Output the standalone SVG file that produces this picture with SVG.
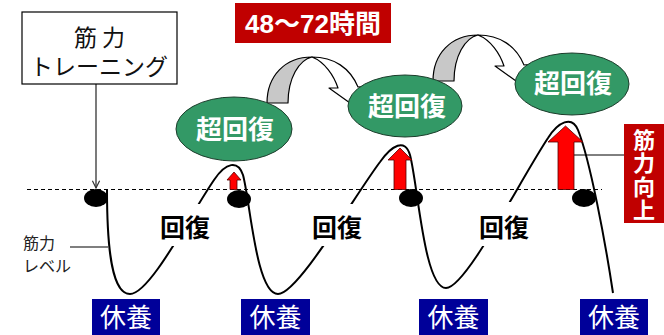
<svg xmlns="http://www.w3.org/2000/svg" width="664" height="335" viewBox="0 0 664 335">
<style>
text{font-family:"Liberation Sans","Noto Sans CJK JP",sans-serif}
.dot{fill:#000}
.sup{fill:#339966;stroke:#1d3d2c;stroke-width:1}
.supt{fill:#fff;font-size:26px;font-weight:bold;text-anchor:middle}
.rest{fill:#000099}
.restt{fill:#fff;font-size:26px;text-anchor:middle}
.rec{fill:#000;font-size:25px;font-weight:bold;text-anchor:middle}
.red{fill:#ff0000;stroke:#500;stroke-width:0.8}
.lab{fill:#c00000}
.labt{fill:#fff;font-size:22px;font-weight:bold;text-anchor:middle}
</style>
<defs>
<marker id="v" viewBox="0 0 10 10" refX="9" refY="5" markerWidth="9" markerHeight="9" markerUnits="userSpaceOnUse" orient="auto">
<path d="M1,1 L9,5 L1,9" fill="none" stroke="#333" stroke-width="1.3"/>
</marker>
<g id="carrow">
<path d="M312,57 C334,57 350,68 358,87 L368,86 L350,103 L329,88 L338,88 C334,76 325,62 312,57 Z" fill="#fff" stroke="#000" stroke-width="1.2" stroke-linejoin="round"/>
<path d="M267,103 C267,76 285,57 312,57 C299,60 288,78 288,103 Z" fill="#c8c8c8" stroke="#000" stroke-width="1.2" stroke-linejoin="round"/>
</g>
</defs>
<rect width="664" height="335" fill="#fff"/>

<g id="connectors">
<line x1="27" y1="189.5" x2="602" y2="189.5" stroke="#000" stroke-width="1" stroke-dasharray="4,3"/>
<path id="curve" d="M107,190 C107,255 113,294 130,294 C150,294 190,215 214,180 C226,162 238,160 243,175 C250,200 256,294 278,294 C298,294 355,195 380,162 C392,145 405,138 410,155 C418,185 424,288 446,288 C466,288 520,180 548,138 C558,122 572,115 578,130 C590,160 605,240 613,293" fill="none" stroke="#000" stroke-width="2"/>
<line x1="96" y1="84" x2="96" y2="188" stroke="#333" stroke-width="1.3" marker-end="url(#v)"/>
<line x1="70" y1="247" x2="108" y2="247" stroke="#555" stroke-width="1.3"/>
<line x1="573" y1="155" x2="624" y2="155" stroke="#000" stroke-width="1"/>
<use href="#carrow"/>
<use href="#carrow" transform="translate(166,-22)"/>
</g>

<g id="training">
<rect x="22" y="12" width="155" height="72" fill="#fff" stroke="#000" stroke-width="1.2"/>
<text x="102" y="46" font-size="23" text-anchor="middle" letter-spacing="5" fill="#111">筋力</text>
<text x="99" y="75" font-size="23" text-anchor="middle" fill="#111">トレーニング</text>
</g>

<g id="level-label">
<text x="23" y="249" font-size="16" fill="#222">筋力</text>
<text x="23" y="272" font-size="16" fill="#222">レベル</text>
</g>

<g id="recovery1">
<rect x="156" y="204" width="58" height="42" fill="#fff"/>
<text class="rec" x="185" y="237">回復</text>
</g>
<g id="recovery2">
<rect x="308" y="204" width="58" height="42" fill="#fff"/>
<text class="rec" x="337" y="237">回復</text>
</g>
<g id="recovery3">
<rect x="474" y="202" width="59" height="44" fill="#fff"/>
<text class="rec" x="504" y="237">回復</text>
</g>

<g id="dot1"><ellipse class="dot" cx="96" cy="198" rx="12" ry="9"/></g>
<g id="dot2"><ellipse class="dot" cx="239" cy="199" rx="12" ry="9"/></g>
<g id="dot3"><ellipse class="dot" cx="411" cy="198" rx="12" ry="9"/></g>
<g id="dot4"><ellipse class="dot" cx="584" cy="198" rx="12" ry="9"/></g>

<g id="up1"><path class="red" d="M230,189.5 L230,180 L227,180 L234,172 L241,180 L237,180 L237,189.5 Z"/></g>
<g id="up2"><path class="red" d="M394,189.5 L394,160 L388,160 L400,148 L412,160 L406,160 L406,189.5 Z"/></g>
<g id="up3"><path class="red" d="M558,189.5 L558,142 L548,142 L565.5,126 L583,142 L574,142 L574,189.5 Z"/></g>

<g id="super1">
<ellipse class="sup" cx="234" cy="129" rx="58" ry="32"/>
<text class="supt" x="235" y="139">超回復</text>
</g>
<g id="super2">
<ellipse class="sup" cx="405" cy="106" rx="57" ry="31"/>
<text class="supt" x="407" y="116">超回復</text>
</g>
<g id="super3">
<ellipse class="sup" cx="572" cy="84" rx="57" ry="31"/>
<text class="supt" x="573" y="93">超回復</text>
</g>

<g id="hours">
<rect class="lab" x="235" y="3" width="156" height="40"/>
<text x="313" y="33" font-size="26" font-weight="bold" fill="#fff" text-anchor="middle">48～72時間</text>
</g>

<g id="strength-up">
<rect class="lab" x="624" y="124" width="40" height="99"/>
<text class="labt" x="644" y="148">筋</text>
<text class="labt" x="644" y="171">力</text>
<text class="labt" x="644" y="195">向</text>
<text class="labt" x="644" y="218">上</text>
</g>

<g id="rest1"><rect class="rest" x="92" y="299" width="68" height="37"/><text class="restt" x="126" y="327">休養</text></g>
<g id="rest2"><rect class="rest" x="241" y="299" width="69" height="37"/><text class="restt" x="275.5" y="327">休養</text></g>
<g id="rest3"><rect class="rest" x="419" y="299" width="69" height="37"/><text class="restt" x="453.5" y="327">休養</text></g>
<g id="rest4"><rect class="rest" x="580" y="299" width="68" height="37"/><text class="restt" x="614" y="327">休養</text></g>
</svg>
